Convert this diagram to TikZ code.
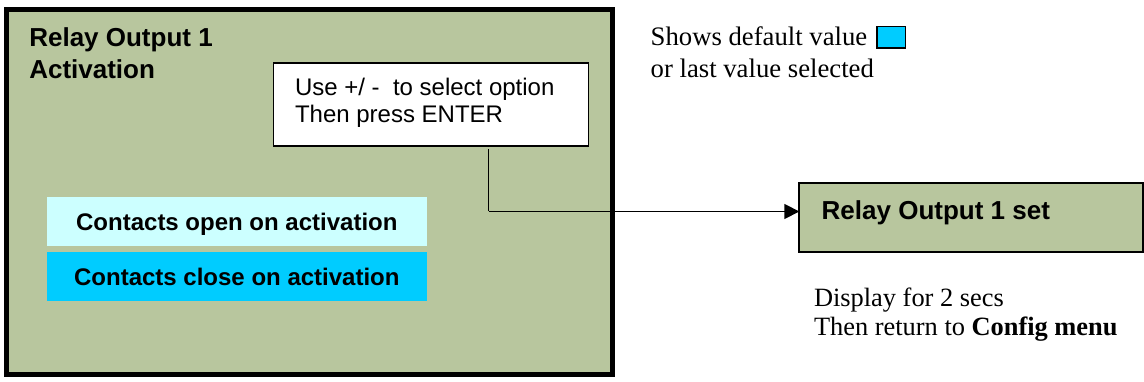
\documentclass[tikz,border=0pt]{standalone}
\usepackage{fontspec}
\setmainfont{Liberation Serif}
\newfontfamily\arial{Liberation Sans}
\usetikzlibrary{arrows.meta}
\definecolor{panel}{RGB}{184,198,158}
\definecolor{optlight}{RGB}{204,255,255}
\definecolor{optsel}{RGB}{0,204,255}
\begin{document}
\begin{tikzpicture}[x=1pt,y=-1pt,
  box/.style={draw=black, inner sep=0pt, outer sep=0pt, anchor=north west},
  txt/.style={anchor=base west, inner sep=0pt, outer sep=0pt, align=left},
  optbox/.style={draw=none, inner sep=0pt, outer sep=0pt, anchor=north west,
    minimum width=380.5pt, minimum height=48.5pt, text height=20pt, text depth=3pt,
    font=\arial\bfseries\fontsize{24}{27}\selectfont},
  conn/.style={line width=1.7pt, -{Triangle[length=15pt,width=15pt]}}]
\useasboundingbox (0,0) rectangle (1144,382);
% main panel
\node[box, line width=5pt, fill=panel, minimum width=606.5pt, minimum height=365.3pt] (main) at (6.3,9.2) {};
\node[txt, font=\arial\bfseries\fontsize{26}{31.6}\selectfont] (title) at (29.3,78.3) {Relay Output 1\\Activation};
% instruction box
\node[box, line width=1.5pt, fill=white, minimum width=315pt, minimum height=83pt] (ubox) at (273.5,63) {};
\node[txt, font=\arial\fontsize{24}{26.7}\selectfont] (utext) at (295,122.7) {Use +/\ -\ \ to select option\\Then press ENTER};
% options
\node[optbox, fill=optlight] (optopen) at (46.6,197.3) {Contacts open on activation};
\node[optbox, fill=optsel] (optclose) at (46.6,252.4) {Contacts close on activation};
% result box
\node[box, line width=2pt, fill=panel, minimum width=343.7pt, minimum height=68.4pt] (setbox) at (799.3,183.3) {};
\node[txt, font=\arial\bfseries\fontsize{26}{30}\selectfont] (settext) at (821.7,219.3) {Relay Output 1 set};
% connector
\coordinate (turn) at (488.5,211.5);
\draw[line width=1.7pt] ([yshift=-3.5pt]ubox.south -| turn) -- (turn);
\draw[conn] (turn) -- (turn -| setbox.west);
% legend
\node[txt, font=\fontsize{26.7}{31.3}\selectfont] (legend) at (650.7,77.3) {Shows default value\\or last value selected};
\node[box, line width=1.5pt, fill=optsel, minimum width=28.5pt, minimum height=21.5pt] (swatch) at (876.75,26.75) {};
% note
\node[txt, font=\fontsize{26.4}{29}\selectfont] (note) at (814,335) {Display for 2 secs\\Then return to \textbf{Config menu}};
\end{tikzpicture}
\end{document}
